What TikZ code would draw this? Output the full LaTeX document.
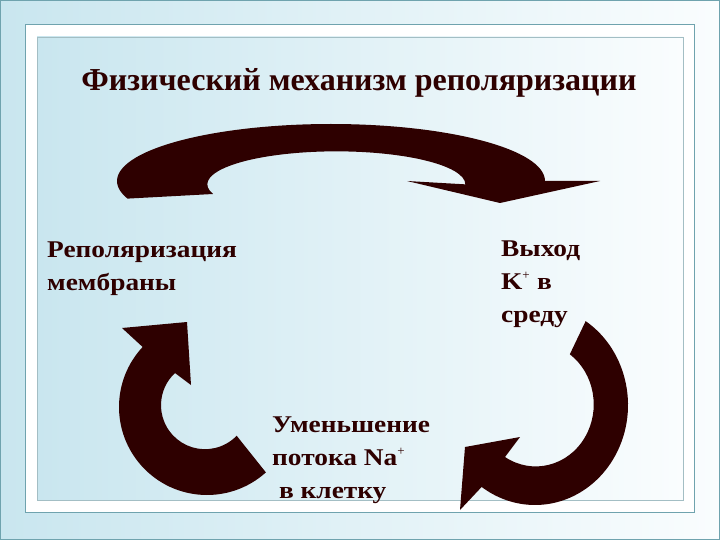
\documentclass[tikz,border=0pt]{standalone}
\usepackage{fontspec}
\setmainfont{Liberation Serif}
\newfontfamily\widefont[FakeStretch=1.14]{Liberation Serif}
\newcommand{\plussup}{\textsuperscript{\normalfont\fontsize{13}{13}\selectfont +}}
\definecolor{ink}{HTML}{2E0000}
\definecolor{bgl}{HTML}{C9E6EF}
\definecolor{bgr}{HTML}{FAFDFE}
\definecolor{framec}{HTML}{6FA3AE}
\definecolor{innerline}{HTML}{A3BEC4}
\begin{document}
\begin{tikzpicture}[x=1pt,y=1pt,
  lbl/.style={text=ink, font=\widefont\bfseries\fontsize{24}{33}\selectfont, align=left, inner sep=0pt, anchor=base west},
  bigarrow/.style={fill=ink}]
\useasboundingbox (0,0) rectangle (720,-540);
\shade[left color=bgl, right color=bgr] (0,0) rectangle (720,-540);
\draw[framec, line width=1.2pt] (0.6,-0.6) rectangle (719.4,-539.4);
\draw[framec, fill=white, line width=1pt] (25,-25) rectangle (694,-512);
\shade[left color=bgl, right color=bgr] (37,-37) rectangle (683,-500);
\draw[innerline, line width=0.8pt] (37,-37) rectangle (683,-500);
% title
\node[text=ink, font=\bfseries\fontsize{32}{36}\selectfont, anchor=base, inner sep=0pt] (title) at (359,-91) {Физический механизм реполяризации};
% labels (anchored at the baseline of the last line)
\node[lbl] (repol) at (47,-290) {Реполяризация\\мембраны};
\node[lbl] (kout) at (501,-322) {Выход\\K\plussup{} в\\среду};
\node[lbl] (naflow) at (272,-498) {Уменьшение\\потока Na\plussup\\\ в клетку};
% top arrow
\fill[bigarrow] (213,-194) arc[start angle=197, end angle=0, x radius=129, y radius=33]
  -- (407,-181) -- (500,-203) -- (600,-181) -- (545,-181)
  arc[start angle=0, end angle=198, x radius=214, y radius=57] -- cycle;
% left arrow
\fill[bigarrow] (207,-407) ++(-48:88) arc[start angle=-48, end angle=-223, radius=88]
  -- (122,-328) -- (187,-322) -- (191,-385) -- (175,-373)
  arc[start angle=133, end angle=316, radius=44] -- cycle;
% right arrow
\fill[bigarrow] (535,-405) ++({93*cos(57)},{100*sin(57)}) arc[start angle=57, end angle=-125, x radius=93, y radius=100]
  -- (460,-510) -- (465,-447) -- (520,-437) -- (505,-457)
  arc[start angle=-122, end angle=54, x radius=58, y radius=62] -- cycle;
\end{tikzpicture}
\end{document}
